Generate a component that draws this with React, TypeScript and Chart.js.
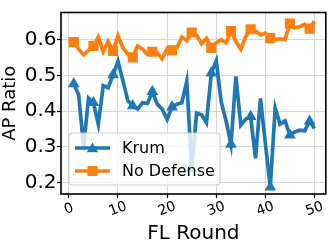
import React, { useEffect, useRef } from "react";
import { Chart, registerables } from "chart.js";

Chart.register(...registerables);

const rounds = [1, 2, 3, 4, 5, 6, 7, 8, 9, 10, 11, 12, 13, 14, 15, 16, 17, 18, 19, 20, 21, 22, 23, 24, 25, 26, 27, 28, 29, 30, 31, 32, 33, 34, 35, 36, 37, 38, 39, 40, 41, 42, 43, 44, 45, 46, 47, 48, 49, 50];
const krum = [0.477, 0.446, 0.300, 0.437, 0.424, 0.364, 0.472, 0.466, 0.502, 0.540, 0.486, 0.430, 0.415, 0.406, 0.424, 0.422, 0.455, 0.420, 0.406, 0.377, 0.412, 0.420, 0.424, 0.484, 0.240, 0.395, 0.390, 0.368, 0.507, 0.542, 0.427, 0.373, 0.307, 0.498, 0.361, 0.378, 0.385, 0.268, 0.436, 0.310, 0.187, 0.409, 0.364, 0.373, 0.333, 0.342, 0.347, 0.345, 0.372, 0.352];
const noDefense = [0.594, 0.574, 0.558, 0.571, 0.583, 0.608, 0.567, 0.596, 0.569, 0.612, 0.578, 0.560, 0.551, 0.583, 0.574, 0.560, 0.567, 0.563, 0.547, 0.576, 0.571, 0.578, 0.608, 0.598, 0.621, 0.614, 0.589, 0.605, 0.578, 0.592, 0.601, 0.592, 0.625, 0.596, 0.574, 0.610, 0.630, 0.625, 0.614, 0.619, 0.605, 0.601, 0.603, 0.601, 0.646, 0.634, 0.637, 0.644, 0.632, 0.652];
const xTicks = [0, 10, 20, 30, 40, 50];
const yTicks = [0.2, 0.3, 0.4, 0.5, 0.6];
const seriesNames = ["Krum", "No Defense"];

const BLUE = "#1f77b4";
const ORANGE = "#ff7f0e";
const FONT = "'DejaVu Sans', sans-serif";

function drawTri(ctx: CanvasRenderingContext2D, cx: number, cy: number, r: number) {
  ctx.beginPath();
  ctx.moveTo(cx, cy - r);
  ctx.lineTo(cx - r * Math.sin(Math.PI / 3), cy + r * 0.5);
  ctx.lineTo(cx + r * Math.sin(Math.PI / 3), cy + r * 0.5);
  ctx.closePath();
  ctx.fill();
}

const overlay = {
  id: "overlay",
  afterDraw(chart: any) {
    const ctx: CanvasRenderingContext2D = chart.ctx;
    const ca = chart.chartArea;
    const xs = chart.scales.x;
    ctx.save();
    ctx.strokeStyle = "#000";
    ctx.lineWidth = 1.6;
    ctx.strokeRect(ca.left, ca.top, ca.right - ca.left, ca.bottom - ca.top);
    ctx.fillStyle = "#000";
    ctx.font = `14px ${FONT}`;
    ctx.textAlign = "center";
    ctx.textBaseline = "middle";
    for (const v of xTicks) {
      const px = xs.getPixelForValue(v);
      ctx.save();
      ctx.translate(px, 209);
      ctx.rotate((-20 * Math.PI) / 180);
      ctx.fillText(String(v), 0, 0);
      ctx.restore();
    }
    const lx = 69, ly = 133, lw = 151, lh = 52, rr = 3;
    ctx.beginPath();
    ctx.moveTo(lx + rr, ly);
    ctx.lineTo(lx + lw - rr, ly);
    ctx.arcTo(lx + lw, ly, lx + lw, ly + rr, rr);
    ctx.lineTo(lx + lw, ly + lh - rr);
    ctx.arcTo(lx + lw, ly + lh, lx + lw - rr, ly + lh, rr);
    ctx.lineTo(lx + rr, ly + lh);
    ctx.arcTo(lx, ly + lh, lx, ly + lh - rr, rr);
    ctx.lineTo(lx, ly + rr);
    ctx.arcTo(lx, ly, lx + rr, ly, rr);
    ctx.closePath();
    ctx.fillStyle = "rgba(255,255,255,0.8)";
    ctx.fill();
    ctx.strokeStyle = "#cccccc";
    ctx.lineWidth = 1;
    ctx.stroke();
    const rows = [
      { y: 148, color: BLUE, tri: true },
      { y: 171, color: ORANGE, tri: false },
    ];
    rows.forEach((row, i) => {
      ctx.strokeStyle = row.color;
      ctx.fillStyle = row.color;
      ctx.lineWidth = 3.7;
      ctx.beginPath();
      ctx.moveTo(75, row.y);
      ctx.lineTo(110, row.y);
      ctx.stroke();
      if (row.tri) {
        drawTri(ctx, 92.5, row.y + 1, 6.5);
      } else {
        ctx.fillRect(92.5 - 5, row.y - 5, 10, 10);
      }
      ctx.fillStyle = "#000";
      ctx.font = `16px ${FONT}`;
      ctx.textAlign = "left";
      ctx.textBaseline = "middle";
      ctx.fillText(seriesNames[i], 122, row.y + 1);
    });
    ctx.restore();
  },
};

export default function App() {
  const ref = useRef<HTMLCanvasElement | null>(null);
  useEffect(() => {
    if (!ref.current) return;
    const every = (r: number) => (c: any) => (c.dataIndex % 4 === 0 ? r : 0);
    const chart = new Chart(ref.current, {
      type: "line",
      data: {
        datasets: [
          {
            label: seriesNames[0],
            data: rounds.map((r, i) => ({ x: r, y: krum[i] })),
            borderColor: BLUE,
            backgroundColor: BLUE,
            borderWidth: 3.7,
            pointStyle: "triangle",
            pointRadius: every(6.8),
            pointBorderWidth: 0,
            tension: 0,
          },
          {
            label: seriesNames[1],
            data: rounds.map((r, i) => ({ x: r, y: noDefense[i] })),
            borderColor: ORANGE,
            backgroundColor: ORANGE,
            borderWidth: 3.7,
            pointStyle: "rect",
            pointRadius: every(7.2),
            pointBorderWidth: 0,
            tension: 0,
          },
        ],
      },
      options: {
        responsive: false,
        animation: false,
        events: [],
        layout: { padding: { left: 0, right: 5, top: 3, bottom: 0 } },
        plugins: { legend: { display: false }, tooltip: { enabled: false } },
        scales: {
          x: {
            type: "linear",
            min: -1.6,
            max: 52.3,
            afterBuildTicks: (s: any) => {
              s.ticks = xTicks.map((v) => ({ value: v }));
            },
            afterFit: (s: any) => {
              s.height = 53;
            },
            ticks: { display: false },
            grid: { color: "#d6d6d6", lineWidth: 1, tickLength: 4, tickColor: "#000", tickWidth: 1.2 },
            border: { display: false },
            title: {
              display: true,
              text: "FL Round",
              color: "#000",
              font: { family: FONT, size: 20, lineHeight: 1.2 },
              padding: { top: 0, bottom: 1 },
            },
          },
          y: {
            type: "linear",
            min: 0.168,
            max: 0.677,
            afterBuildTicks: (s: any) => {
              s.ticks = yTicks.map((v) => ({ value: v }));
            },
            afterFit: (s: any) => {
              s.width = 61;
            },
            ticks: {
              color: "#000",
              padding: 0.5,
              font: { family: FONT, size: 20 },
              callback: (v: any) => Number(v).toFixed(1),
            },
            grid: { color: "#d6d6d6", lineWidth: 1, tickLength: 4, tickColor: "#000", tickWidth: 1.2 },
            border: { display: false },
            title: {
              display: true,
              text: "AP Ratio",
              color: "#000",
              font: { family: FONT, size: 18, lineHeight: 1.2 },
              padding: { top: 0, bottom: 0 },
            },
          },
        },
      },
      plugins: [overlay],
    });
    return () => chart.destroy();
  }, []);
  return (
    <div style={{ position: "fixed", left: 0, top: 0, width: 333, height: 247, background: "#fff" }}>
      <canvas ref={ref} width={333} height={247} style={{ display: "block" }} />
    </div>
  );
}
